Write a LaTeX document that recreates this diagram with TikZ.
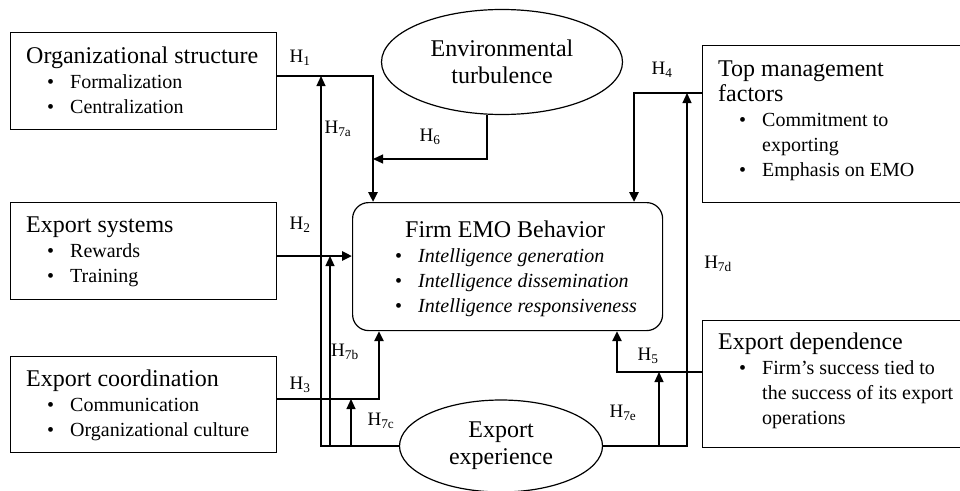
\documentclass[tikz,border=0pt]{standalone}
\usepackage{fontspec}
\setmainfont{Liberation Serif}
\usetikzlibrary{arrows.meta,shapes.geometric}
\newcommand{\hyp}[1]{H\textsubscript{#1}}
\newcommand{\bitem}[2][21pt]{\hspace*{#1}\makebox[23pt][l]{\textbullet}#2}
\newcommand{\titl}[1]{{\fontsize{24}{25}\selectfont #1}}

\begin{document}
\begin{tikzpicture}[x=1pt,y=-1pt,>={Triangle[length=10pt,width=9pt]},
  box/.style={draw,line width=1.2pt,inner sep=0pt,anchor=north west},
  oval/.style={draw,ellipse,line width=1.2pt,inner sep=0pt,align=center,
    font=\fontsize{24}{27}\selectfont},
  boxtext/.style={anchor=base west,inner sep=0pt,align=left,
    font=\fontsize{20}{25}\selectfont},
  hlabel/.style={font=\fontsize{19}{20}\selectfont,inner sep=0pt},
  mainlink/.style={->,line width=2.6pt},
  link/.style={->,line width=1.2pt}]
  \useasboundingbox (0,0) rectangle (960,490);

  % boxes and ovals
  \node[box,minimum width=266pt,minimum height=97pt] (orgs) at (10,32) {};
  \node[box,minimum width=266pt,minimum height=97pt] (syst) at (10,202) {};
  \node[box,minimum width=266pt,minimum height=96pt] (coord) at (10,356) {};
  \node[box,minimum width=262pt,minimum height=157pt] (topm) at (702,45) {};
  \node[box,minimum width=262pt,minimum height=127pt] (xdep) at (702,320) {};
  \node[box,rounded corners=16pt,minimum width=310pt,minimum height=128pt] (emo) at (352,202) {};
  \node[oval,minimum width=241pt,minimum height=105pt] (env) at (502,62)
    {Environmental\\turbulence};
  \node[oval,minimum width=203pt,minimum height=92pt] (xexp) at (501,446)
    {Export\\experience};

  % box texts (placed by the baseline of their last line)
  \node[boxtext] (orgs-t) at (26,113) {\titl{Organizational structure}\\
    \bitem{Formalization}\\ \bitem{Centralization}};
  \node[boxtext] (syst-t) at (26,282) {\titl{Export systems}\\
    \bitem{Rewards}\\ \bitem{Training}};
  \node[boxtext] (coord-t) at (26,436) {\titl{Export coordination}\\
    \bitem{Communication}\\ \bitem{Organizational culture}};
  \node[boxtext] (topm-t) at (718,176) {\titl{Top management}\\ \titl{factors}\\
    \bitem{Commitment to}\\ \hspace*{44pt}exporting\\ \bitem{Emphasis on EMO}};
  \node[boxtext] (xdep-t) at (718,424) {\titl{Export dependence}\\
    \bitem{Firm’s success tied to}\\ \hspace*{44pt}the success of its export\\
    \hspace*{44pt}operations};
  \node[boxtext] (emo-t) at (395,312) {\hspace*{10pt}\titl{Firm EMO Behavior}\\
    \bitem[0pt]{\textit{Intelligence generation}}\\
    \bitem[0pt]{\textit{Intelligence dissemination}}\\
    \bitem[0pt]{\textit{Intelligence responsiveness}}};

  % junctions
  \coordinate (j1) at (373,76);
  \coordinate (j3) at (379,399);
  \coordinate (j4) at (634,93);
  \coordinate (j5) at (617,372);
  \coordinate (j6) at (487,159);
  \coordinate (t7a) at (321,76);
  \coordinate (t7b) at (330,256);
  \coordinate (t7c) at (351,399);
  \coordinate (t7d) at (687,93);
  \coordinate (t7e) at (659,372);

  % moderating links from export experience
  \draw[link] (xexp.west) -| (t7a);
  \draw[link] (xexp.west -| t7b) -- (t7b);
  \draw[link] (xexp.west -| t7c) -- (t7c);
  \draw[link] (xexp.east) -| (t7d);
  \draw[link] (xexp.east -| t7e) -- (t7e);
  \draw[link] (env.south -| j6) -- (j6) -- (j1 |- j6);

  % main links
  \draw[mainlink] (orgs.east |- j1) -| (emo.north -| j1);
  \draw[mainlink] (syst.east |- t7b) -- (emo.west |- t7b);
  \draw[mainlink] (coord.east |- j3) -| (emo.south -| j3);
  \draw[mainlink] (topm.west |- j4) -| (emo.north -| j4);
  \draw[mainlink] (xdep.west |- j5) -| (emo.south -| j5);

  % labels
  \node[hlabel] (h1) at (300,58) {\hyp{1}};
  \node[hlabel] (h2) at (300,225) {\hyp{2}};
  \node[hlabel] (h3) at (300,385) {\hyp{3}};
  \node[hlabel] (h4) at (662,70) {\hyp{4}};
  \node[hlabel] (h5) at (648,356) {\hyp{5}};
  \node[hlabel] (h6) at (430,137) {\hyp{6}};
  \node[hlabel] (h7a) at (338,129) {\hyp{7a}};
  \node[hlabel] (h7b) at (345,352) {\hyp{7b}};
  \node[hlabel] (h7c) at (381,421) {\hyp{7c}};
  \node[hlabel] (h7d) at (718,264) {\hyp{7d}};
  \node[hlabel] (h7e) at (623,413) {\hyp{7e}};
\end{tikzpicture}
\end{document}
